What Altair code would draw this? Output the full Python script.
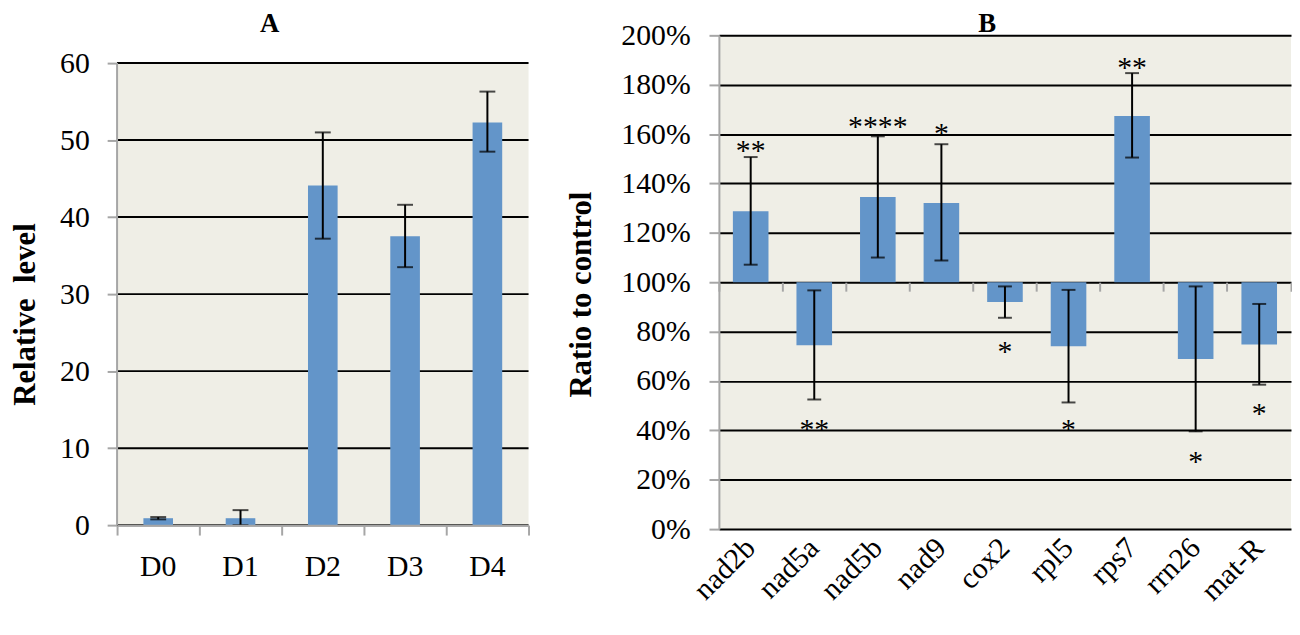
import altair as alt
import pandas as pd

FONT = "Liberation Serif"
BLUE = "#6395C9"
BG = "#EFEEE6"
GREY = "#A6A6A6"

# ---------------- Panel A data ----------------
days = ["D0", "D1", "D2", "D3", "D4"]
level = [0.9, 0.9, 44.1, 37.5, 52.3]
level_lo = [0.75, 0.0, 37.2, 33.5, 48.5]
level_hi = [1.05, 1.95, 51.0, 41.6, 56.3]
a_ticks = [0, 10, 20, 30, 40, 50, 60]

# ---------------- Panel B data ----------------
genes = ["nad2b", "nad5a", "nad5b", "nad9", "cox2", "rpl5", "rps7", "rrn26", "mat-R"]
ratio = [128.7, 74.5, 134.5, 132.1, 92.0, 74.1, 167.3, 68.9, 74.8]
ratio_lo = [107.1, 52.5, 110.0, 108.8, 85.6, 51.3, 150.5, 39.6, 58.5]
ratio_hi = [150.7, 96.7, 159.1, 155.9, 98.3, 96.9, 184.7, 98.3, 91.2]
stars = ["**", "**", "****", "*", "*", "*", "**", "*", "*"]
star_pos = [155.3, 42.0, 165.0, 162.0, 73.9, 42.0, 188.8, 29.0, 48.8]
control = 100
b_ticks = [0, 20, 40, 60, 80, 100, 120, 140, 160, 180, 200]

dfA = pd.DataFrame({"day": days, "level": level, "lo": level_lo, "hi": level_hi})
dfAframe = pd.DataFrame({"top": [a_ticks[-1]], "bottom": [a_ticks[0]]})
dfAgrid = pd.DataFrame({"g": a_ticks})
dfB = pd.DataFrame({"gene": genes, "ratio": ratio, "lo": ratio_lo, "hi": ratio_hi,
                    "stars": stars, "spos": star_pos, "base": [control] * len(genes)})

# panel sizes (panel A's view is taller than its shaded data area, so both
# panels' views start at the same height while A's frame starts lower)
WA, HA_DATA, HA = 415, 466, 494
WB, HB = 577, 498
A_TOP = a_ticks[-1] * HA / HA_DATA

# ---------------- Panel A ----------------
xA_axis = alt.Axis(labelFont=FONT, labelFontSize=30, labelColor="black", labelAngle=0,
                   labelPadding=17, domainColor=GREY, domainWidth=2, tickColor=GREY,
                   tickWidth=2, tickSize=10, bandPosition=1, tickExtra=True, zindex=1,
                   grid=False)
yA_axis = alt.Axis(values=a_ticks, labelFont=FONT, labelFontSize=30, labelColor="black",
                   labelPadding=18, domain=False, tickColor=GREY,
                   tickWidth=2, tickSize=10, grid=False,
                   titleFont=FONT, titleFontSize=31, titleFontWeight="bold",
                   titleColor="black", titlePadding=18,
                   titleY=(HA - HA_DATA) + HA_DATA * 0.543)
yscaleA = alt.Scale(domain=[0, A_TOP], nice=False)
xscaleA = alt.Scale(paddingInner=0, paddingOuter=0)
TITLE_A = "Relative\u00a0 level"


def xA():
    return alt.X("day:N", sort=days, title=None, scale=xscaleA, axis=xA_axis)


def yA(field):
    return alt.Y(field, type="quantitative", scale=yscaleA, title=TITLE_A, axis=yA_axis)


bgA = alt.Chart(dfAframe).mark_rect(color=BG).encode(
    x=alt.value(0), x2=alt.value(WA), y=yA("top"), y2="bottom:Q")
gridA = alt.Chart(dfAgrid).mark_rule(color="black", strokeWidth=2).encode(
    x=alt.value(0), x2=alt.value(WA), y=yA("g"))
baseA = alt.Chart(dfA)
barsA = baseA.mark_bar(color=BLUE, width=alt.RelativeBandSize(0.36)).encode(
    x=xA(), y=yA("level"))
errA = baseA.mark_rule(color="black", strokeWidth=2).encode(
    x=xA(), y=yA("lo"), y2="hi:Q")
capLoA = baseA.mark_tick(color="black", thickness=2, size=16, orient="horizontal").encode(
    x=xA(), y=yA("lo"))
capHiA = baseA.mark_tick(color="black", thickness=2, size=16, orient="horizontal").encode(
    x=xA(), y=yA("hi"))
domA = alt.Chart(dfAframe).mark_rule(color=GREY, strokeWidth=2).encode(
    x=alt.value(0), y=yA("top"), y2="bottom:Q")

panelA = alt.layer(bgA, gridA, barsA, errA, capLoA, capHiA, domA).properties(
    width=WA, height=HA,
    title=alt.TitleParams("A", font=FONT, fontSize=27, fontWeight="bold", color="black",
                          anchor="middle", frame="bounds", offset=-3))

# ---------------- Panel B ----------------
xB_labels = alt.Axis(orient="bottom", labelFont=FONT, labelFontSize=30, labelColor="black",
                     labelAngle=315, labelAlign="right", labelBaseline="middle",
                     labelPadding=14, ticks=False, domain=False, grid=False)
xB_ticks = alt.Axis(orient="bottom", labels=False, domain=False, grid=False, ticks=True,
                    tickColor=GREY, tickWidth=2, tickSize=9, bandPosition=1,
                    tickExtra=True, offset=-HB / 2)
xscaleB = alt.Scale(paddingInner=0, paddingOuter=0)
yscaleB = alt.Scale(domain=[b_ticks[0], b_ticks[-1]], nice=False)
yB_axis = alt.Axis(values=b_ticks, labelExpr="datum.value + '%'", labelFont=FONT,
                   labelFontSize=30, labelColor="black", labelPadding=19,
                   domainColor=GREY, domainWidth=2, tickColor=GREY, tickWidth=2,
                   tickSize=10, grid=True, gridColor="black", gridWidth=2,
                   titleFont=FONT, titleFontSize=31, titleFontWeight="bold",
                   titleColor="black", titlePadding=24, titleY=HB / 2 + 12)


def xB(axis):
    return alt.X("gene:N", sort=genes, title=None, scale=xscaleB, axis=axis)


def yB(field):
    return alt.Y(field, type="quantitative", scale=yscaleB, title="Ratio to control",
                 axis=yB_axis)


baseB = alt.Chart(dfB)
barsB = baseB.mark_bar(color=BLUE, width=alt.RelativeBandSize(0.56)).encode(
    x=xB(xB_labels), y=yB("ratio"), y2="base:Q")
errB = baseB.mark_rule(color="black", strokeWidth=2).encode(
    x=xB(xB_ticks), y=yB("lo"), y2="hi:Q")
capLoB = baseB.mark_tick(color="black", thickness=2, size=14, orient="horizontal").encode(
    x=xB(None), y=yB("lo"))
capHiB = baseB.mark_tick(color="black", thickness=2, size=14, orient="horizontal").encode(
    x=xB(None), y=yB("hi"))
starsB = baseB.mark_text(font=FONT, fontSize=30, color="black", baseline="alphabetic",
                         dy=14).encode(
    x=xB(None), y=yB("spos"), text="stars:N")

panelB = alt.layer(barsB, errB, capLoB, capHiB, starsB).resolve_axis(x="independent").properties(
    width=WB, height=HB, view=alt.ViewBackground(fill=BG),
    title=alt.TitleParams("B", font=FONT, fontSize=27, fontWeight="bold", color="black",
                          anchor="middle", offset=-18, dx=-18))

chart = alt.hconcat(panelA, panelB, spacing=36).properties(
    padding={"left": 2, "top": 0, "right": 0, "bottom": 0}
).configure_view(stroke=None)

chart.save("out.html", embed_options={"renderer": "svg", "actions": False})
